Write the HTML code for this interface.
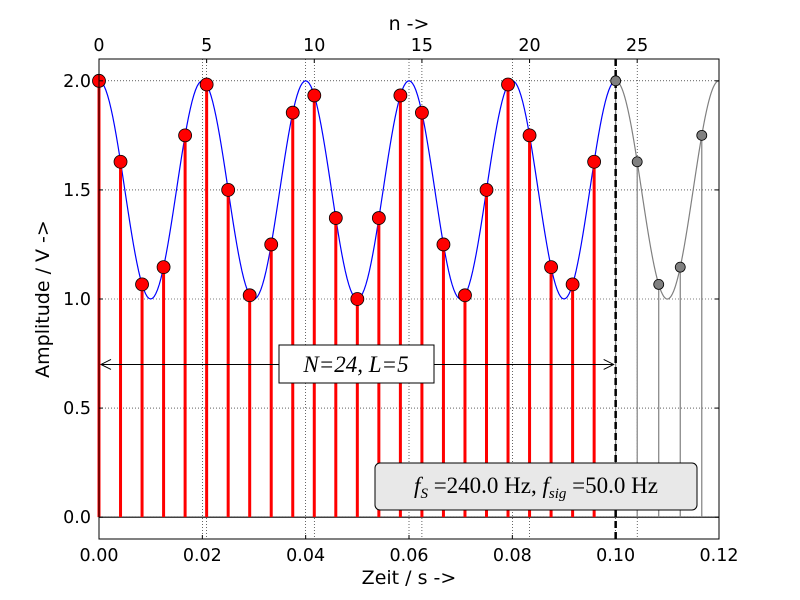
<!DOCTYPE html>
<html><head><meta charset="utf-8"><style>
body{margin:0;background:#fff}
svg{display:block;font-family:"DejaVu Sans","Liberation Sans",sans-serif}
</style></head><body>
<svg id="chart" width="800" height="600">
<rect width="800" height="600" fill="#fff"/>
<g id="grid"></g>
<g id="marks"></g>
<g id="axes"></g>
</svg>
<script>
const sampleIdx=[0,1,2,3,4,5,6,7,8,9,10,11,12,13,14,15,16,17,18,19,20,21,22,23];
const sampleVals=[2.0,1.629,1.067,1.146,1.75,1.983,1.5,1.017,1.25,1.854,1.933,1.371,1.0,1.371,1.933,1.854,1.25,1.017,1.5,1.983,1.75,1.146,1.067,1.629];
const extIdx=[24,25,26,27,28];
const extVals=[2.0,1.629,1.067,1.146,1.75];
const xTicks=[0,0.02,0.04,0.06,0.08,0.1,0.12];
const xLabels=["0.00","0.02","0.04","0.06","0.08","0.10","0.12"];
const yTicks=[0,0.5,1,1.5,2];
const yLabels=["0.0","0.5","1.0","1.5","2.0"];
const nTicks=[0,5,10,15,20,25];
const fs=240, fsig=50, amp=0.5, offset=1.5, N=24;

const NS="http://www.w3.org/2000/svg";
const L=99,R=719,T=59,B=539,x0=0,x1=0.12,y0=-0.1,y1=2.1;
const X=t=>L+(t-x0)/(x1-x0)*(R-L);
const Y=v=>B-(v-y0)/(y1-y0)*(B-T);
function el(tag,attrs,parent,text){const e=document.createElementNS(NS,tag);for(const k in attrs)e.setAttribute(k,attrs[k]);if(text!==undefined)e.textContent=text;parent.appendChild(e);return e;}
const grid=document.getElementById('grid'),marks=document.getElementById('marks'),axes=document.getElementById('axes');
const dot={stroke:"#000","stroke-width":0.6,"stroke-dasharray":"1,2"};
xTicks.forEach(t=>{const g=el('line',Object.assign({x1:X(t),x2:X(t),y1:T,y2:B},dot),grid);});
yTicks.forEach(v=>{const g=el('line',Object.assign({x1:L,x2:R,y1:Y(v),y2:Y(v)},dot),grid);});
nTicks.forEach(n=>{const g=el('line',Object.assign({x1:X(n/fs),x2:X(n/fs),y1:T,y2:B},dot),grid);});
const bl=el('line',{x1:L,x2:R,y1:Y(0),y2:Y(0),stroke:"#000","stroke-width":1.2},marks);

function curve(ta,tb,color,name){let d="";for(let i=0;i<=300;i++){const t=ta+(tb-ta)*i/300;const v=offset+amp*Math.cos(2*Math.PI*fsig*t);d+=(i?"L":"M")+X(t).toFixed(2)+","+Y(v).toFixed(2);}const p=el('path',{d:d,fill:"none",stroke:color,"stroke-width":1.2},marks);}
curve(0,N/fs,"#0000ff","signal-curve");
curve(N/fs,0.12,"#808080","periodic-continuation-curve");
extIdx.forEach((n,i)=>{const s=el('line',{x1:X(n/fs),x2:X(n/fs),y1:Y(0),y2:Y(extVals[i]),stroke:"#808080","stroke-width":1.2},marks);});
sampleIdx.forEach((n,i)=>{const s=el('line',{x1:X(n/fs),x2:X(n/fs),y1:Y(0),y2:Y(sampleVals[i]),stroke:"#ff0000","stroke-width":3},marks);});
const dl=el('line',{x1:X(N/fs),x2:X(N/fs),y1:T,y2:B,stroke:"#000","stroke-width":2.5,"stroke-dasharray":"7,4"},marks);

extIdx.forEach((n,i)=>{const c=el('circle',{cx:X(n/fs),cy:Y(extVals[i]),r:5,fill:"#808080",stroke:"#000","stroke-width":0.8},marks);});
sampleIdx.forEach((n,i)=>{const c=el('circle',{cx:X(n/fs),cy:Y(sampleVals[i]),r:6.5,fill:"#ff0000",stroke:"#000","stroke-width":0.8},marks);});
const ay=Y(0.7);
const ar=el('g',{},marks);
el('line',{x1:X(0)+2,x2:X(N/fs)-2,y1:ay,y2:ay,stroke:"#000","stroke-width":1},ar);
el('path',{d:`M${X(0)+12},${ay-5}L${X(0)+2},${ay}L${X(0)+12},${ay+5}M${X(N/fs)-12},${ay-5}L${X(N/fs)-2},${ay}L${X(N/fs)-12},${ay+5}`,fill:"none",stroke:"#000","stroke-width":1},ar);
const nb=el('g',{},marks);
el('rect',{x:279,y:345,width:155,height:38,fill:"#fff",stroke:"#000","stroke-width":1},nb);
el('text',{x:356,y:372,"text-anchor":"middle","font-family":"Liberation Serif,serif","font-size":23,"font-style":"italic"},nb,"N=24, L=5");
const fb=el('g',{},marks);
el('rect',{x:375,y:463,width:322,height:47,rx:5,fill:"#e8e8e8",stroke:"#000","stroke-width":1},fb);
const ft=el('text',{x:536,y:493,"text-anchor":"middle","font-family":"Liberation Serif,serif","font-size":23},fb);
ft.innerHTML='<tspan font-style="italic">f</tspan><tspan font-size="15" dy="5" font-style="italic">S</tspan><tspan dy="-5"> =240.0 Hz, </tspan><tspan font-style="italic">f</tspan><tspan font-size="15" dy="5" font-style="italic">sig</tspan><tspan dy="-5"> =50.0 Hz</tspan>';
const fr=el('rect',{x:L,y:T,width:R-L,height:B-T,fill:"none",stroke:"#000","stroke-width":1},axes);

xTicks.forEach((t,i)=>{el('line',{x1:X(t),x2:X(t),y1:B,y2:B-4,stroke:"#000"},axes);const tx=el('text',{x:X(t),y:B+22,"text-anchor":"middle","font-size":17.5},axes,xLabels[i]);});
yTicks.forEach((v,i)=>{el('line',{x1:L,x2:L+4,y1:Y(v),y2:Y(v),stroke:"#000"},axes);el('line',{x1:R,x2:R-4,y1:Y(v),y2:Y(v),stroke:"#000"},axes);const tx=el('text',{x:L-8,y:Y(v)+6,"text-anchor":"end","font-size":17.5},axes,yLabels[i]);});
nTicks.forEach(n=>{el('line',{x1:X(n/fs),x2:X(n/fs),y1:T,y2:T+4,stroke:"#000"},axes);const tx=el('text',{x:X(n/fs),y:T-8,"text-anchor":"middle","font-size":17.5},axes,String(n));});
let t1=el('text',{x:409,y:584,"text-anchor":"middle","font-size":19},axes,"Zeit / s ->");
let t2=el('text',{x:409,y:30,"text-anchor":"middle","font-size":19},axes,"n ->");
let t3=el('text',{x:49,y:299,"text-anchor":"middle","font-size":19,transform:"rotate(-90 49 299)"},axes,"Amplitude / V ->");
</script>
</body></html>
